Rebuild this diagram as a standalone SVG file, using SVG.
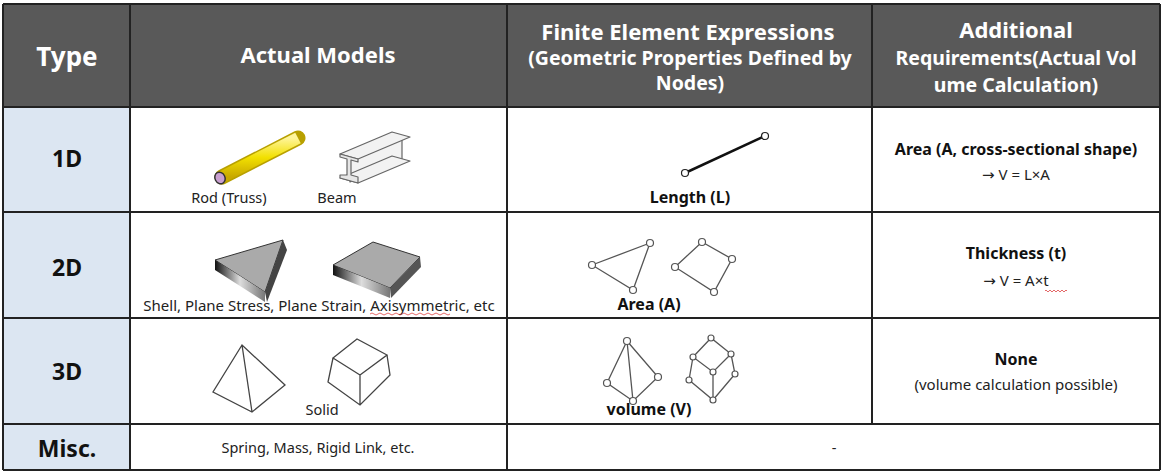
<svg xmlns="http://www.w3.org/2000/svg" width="1166" height="476" viewBox="0 0 1166 476">
<style>
text{font-family:"Noto Sans","Liberation Sans",sans-serif;text-anchor:middle}
.h{fill:#fff;font-weight:bold;font-size:22px}
.h2{fill:#fff;font-weight:bold;font-size:19.5px}
.t{font-weight:bold;font-size:23px;fill:#111}
.s{font-size:14.5px;fill:#222}
.b{font-size:16px;font-weight:bold;fill:#111}
.n{font-size:15px;fill:#222}
.a{font-family:"DejaVu Sans",sans-serif}
.g{fill:none;stroke:#555;stroke-width:1.3}
.nd{fill:#fff;stroke:#555;stroke-width:1.2}
.grid{stroke:#222;stroke-width:2;fill:none}
</style>
<defs>
<linearGradient id="rod" x1="0" y1="0" x2="0" y2="1"><stop offset="0" stop-color="#fff59a"/><stop offset="0.5" stop-color="#f2e000"/><stop offset="1" stop-color="#c8a800"/></linearGradient>
<linearGradient id="side" x1="0" y1="0" x2="1" y2="0"><stop offset="0" stop-color="#111"/><stop offset="0.5" stop-color="#ddd"/><stop offset="1" stop-color="#777"/></linearGradient>
</defs>
<rect x="0" y="0" width="1166" height="476" fill="#fff"/>
<g id="header">
<rect x="3" y="4" width="1157" height="103" fill="#595959"/>
<text class="h" x="67" y="66" style="font-size:26px">Type</text>
<text class="h" x="318" y="63">Actual Models</text>
<text class="h" x="688" y="40">Finite Element Expressions</text>
<text class="h2" x="690" y="65">(Geometric Properties Defined by</text>
<text class="h2" x="690" y="90">Nodes)</text>
<text class="h" x="1016" y="38">Additional</text>
<text class="h2" x="1016" y="65">Requirements(Actual Vol</text>
<text class="h2" x="1016" y="92">ume Calculation)</text>
</g>
<g id="typecol">
<rect x="3" y="107" width="127" height="317" fill="#dce6f2"/>
<rect x="3" y="424" width="127" height="46" fill="#dce6f2"/>
<text class="t" x="67" y="167">1D</text>
<text class="t" x="67" y="276">2D</text>
<text class="t" x="67" y="380">3D</text>
<text class="t" x="67" y="457">Misc.</text>
</g>
<g id="grid">
<path class="grid" d="M3 4H1160M3 107H1160M3 212H1160M3 318H1160M3 424H1160M3 470H1160M3 4V470M130 4V470M507 4V470M872 4V424M1160 4V470"/>
</g>
<g id="row1d">
<line x1="222" y1="177" x2="298" y2="138" stroke="#b8a000" stroke-width="15" stroke-linecap="round"/>
<line x1="222" y1="177" x2="298" y2="138" stroke="url(#rod)" stroke-width="12"/>
<ellipse cx="220" cy="178" rx="5" ry="6" fill="#c9a0d0" stroke="#333" stroke-width="1.5" transform="rotate(-27 220 178)"/>
<g style="stroke:#666;stroke-width:1.2;fill:#f2f2f2;stroke-linejoin:round">
<path d="M350 158L402 136L402 160L350 182Z"/>
<path d="M340 154L392 132L410 137L358 159Z"/>
<path d="M340 178L392 156L410 161L358 183Z"/>
<path d="M340 154L358 159L358 162L351 160L351 175L358 177L358 183L340 178L340 175L347 175L347 159L340 157Z" fill="#e6e6e6"/>
</g>
<text class="s" x="229" y="203">Rod (Truss)</text>
<text class="s" x="337" y="203">Beam</text>
<line x1="685" y1="173" x2="765" y2="136" stroke="#111" stroke-width="2.5"/>
<circle class="nd" cx="685" cy="173" r="3.5" style="stroke:#222"/>
<circle class="nd" cx="765" cy="136" r="3.5" style="stroke:#222"/>
<text class="b" x="690" y="203">Length (L)</text>
<text class="b" x="1016" y="155">Area (A, cross-sectional shape)</text>
<text class="n" x="1016" y="180"><tspan class="a">→</tspan> V = L×A</text>
</g>
<g id="row2d">
<path d="M215 260L283 240L265 292Z" fill="#aaa" stroke="#333"/>
<path d="M215 260L265 292L265 302L215 270Z" fill="url(#side)"/>
<path d="M283 240L287 250L267 302L265 292Z" fill="#444"/>
<path d="M333 265L373 242L420 257L390 288Z" fill="#aaa" stroke="#333"/>
<path d="M333 265L390 288L390 298L333 275Z" fill="url(#side)"/>
<path d="M420 257L421 267L391 298L390 288Z" fill="#555"/>
<text class="s" x="319" y="311" style="font-size:15px">Shell, Plane Stress, Plane Strain, Axisymmetric, etc</text>
<path d="M370 314q2-2 4 0t4 0t4 0t4 0t4 0t4 0t4 0t4 0t4 0t4 0t4 0t4 0t4 0t4 0t4 0t4 0t4 0t4 0t4 0t4 0" fill="none" stroke="#d44" stroke-width="0.8"/>
<path class="g" d="M592 265L650 243L633 290Z M675 267L702 242L732 259L714 292Z"/>
<g class="nd"><circle cx="592" cy="265" r="3.5"/><circle cx="650" cy="243" r="3.5"/><circle cx="633" cy="290" r="3.5"/><circle cx="675" cy="267" r="3.5"/><circle cx="702" cy="242" r="3.5"/><circle cx="732" cy="259" r="3.5"/><circle cx="714" cy="292" r="3.5"/></g>
<text class="b" x="649" y="310">Area (A)</text>
<text class="b" x="1016" y="259">Thickness (t)</text>
<text class="n" x="1016" y="286"><tspan class="a">→</tspan> V = A×t</text>
<path d="M1045 291q1-2 2 0t2 0t2 0t2 0t2 0t2 0t2 0t2 0t2 0t2 0t2 0" fill="none" stroke="#d44" stroke-width="0.8"/>
</g>
<g id="row3d">
<path class="g" d="M242 345L213 392L252 412L285 385Z M242 345L252 412" style="stroke:#444"/>
<path class="g" d="M333 358L357 339L387 355L360 375Z M333 358L328 382L360 405L390 375L387 355 M360 375L360 405" style="stroke:#444"/>
<text class="s" x="322" y="415">Solid</text>
<path class="g" d="M627 341L607 383L633 401L658 377Z M627 341L633 401"/>
<g class="nd"><circle cx="627" cy="341" r="3.5"/><circle cx="607" cy="383" r="3.5"/><circle cx="633" cy="401" r="3.5"/><circle cx="658" cy="377" r="3.5"/></g>
<path class="g" d="M711 338L693 357L713 372L731 354Z M693 357L689 380L713 400L735 374L731 354 M713 372L713 400"/>
<g class="nd"><circle cx="711" cy="338" r="3"/><circle cx="693" cy="357" r="3"/><circle cx="713" cy="372" r="3"/><circle cx="731" cy="354" r="3"/><circle cx="689" cy="380" r="3"/><circle cx="713" cy="400" r="3"/><circle cx="735" cy="374" r="3"/></g>
<text class="b" x="649" y="415">volume (V)</text>
<text class="b" x="1016" y="365">None</text>
<text class="n" x="1016" y="390">(volume calculation possible)</text>
</g>
<g id="rowmisc">
<text class="s" x="318" y="453">Spring, Mass, Rigid Link, etc.</text>
<text class="s" x="834" y="453">-</text>
</g>
</svg>
